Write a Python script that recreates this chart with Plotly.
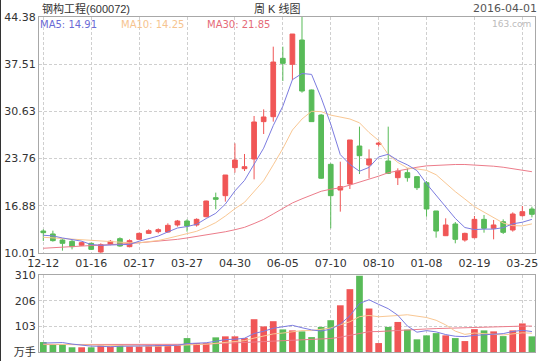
import plotly.graph_objects as go

# ---------------- data ----------------
weeks = [
    "2014-12-12", "2014-12-19", "2014-12-26", "2014-12-31", "2015-01-09",
    "2015-01-16", "2015-01-23", "2015-01-30", "2015-02-06", "2015-02-13",
    "2015-02-17", "2015-02-27", "2015-03-06", "2015-03-13", "2015-03-20",
    "2015-03-27", "2015-04-03", "2015-04-10", "2015-04-17", "2015-04-24",
    "2015-04-30", "2015-05-08", "2015-05-15", "2015-05-22", "2015-05-29",
    "2015-06-05", "2015-06-12", "2015-06-19", "2015-06-26", "2015-07-03",
    "2015-07-10", "2015-07-17", "2015-07-24", "2015-07-31", "2015-08-07",
    "2015-08-10", "2015-12-11", "2015-12-18", "2015-12-25", "2015-12-31",
    "2016-01-08", "2016-01-15", "2016-01-22", "2016-01-29", "2016-02-05",
    "2016-02-19", "2016-02-26", "2016-03-04", "2016-03-11", "2016-03-18",
    "2016-03-25", "2016-04-01",
]

opens = [13.21, 12.78, 11.90, 11.71, 11.13, 11.42, 10.16, 11.27, 12.10, 10.93,
         12.00, 12.87, 13.12, 13.07, 14.09, 14.67, 14.09, 15.30, 18.07, 18.36,
         22.44, 22.29, 23.70, 29.14, 29.86, 38.36, 37.49, 41.03, 33.75, 30.10,
         22.92, 19.18, 20.06, 25.59, 22.83, 25.84, 23.41, 20.98, 21.71, 21.13,
         20.25, 16.13, 12.53, 14.23, 11.90, 12.24, 14.91, 13.60, 14.57, 13.36,
         15.45, 16.42]
highs = [13.46, 13.26, 12.00, 11.90, 11.66, 11.52, 11.42, 11.90, 12.29, 12.00,
         12.97, 13.46, 13.60, 14.33, 14.82, 14.91, 15.06, 17.63, 18.80, 21.37,
         25.98, 24.43, 29.96, 30.93, 40.06, 40.06, 41.90, 44.38, 33.80, 30.25,
         23.07, 23.31, 26.47, 28.41, 25.10, 26.20, 28.41, 22.34, 22.34, 21.22,
         20.49, 16.13, 15.06, 14.52, 12.97, 15.40, 15.54, 14.82, 14.91, 15.93,
         16.85, 16.76]
lows = [11.76, 11.66, 10.35, 10.54, 11.03, 10.45, 10.03, 11.13, 10.93, 10.84,
        11.90, 12.78, 12.87, 12.97, 13.85, 13.12, 13.85, 15.20, 16.37, 17.49,
        21.71, 21.95, 20.74, 27.34, 29.14, 35.06, 35.20, 33.36, 29.14, 20.80,
        13.60, 16.03, 19.33, 21.51, 20.88, 25.50, 21.51, 19.91, 20.40, 19.18,
        15.30, 12.24, 12.48, 11.42, 11.66, 12.15, 12.97, 12.00, 12.78, 13.12,
        15.30, 15.20]
closes = [12.97, 11.81, 11.42, 10.93, 11.52, 10.54, 11.22, 11.71, 11.03, 11.81,
          12.87, 13.26, 13.41, 14.04, 14.67, 13.94, 14.91, 17.58, 17.83, 21.37,
          23.55, 22.58, 29.09, 29.82, 37.82, 37.63, 41.90, 33.60, 29.14, 20.90,
          18.36, 19.67, 26.47, 24.18, 23.70, 26.00, 21.61, 21.95, 20.98, 19.52,
          16.42, 13.21, 14.09, 12.00, 12.87, 14.91, 13.60, 14.09, 13.02, 15.69,
          16.03, 15.64]

ma5 = [12.60, 12.50, 12.20, 12.00, 11.73, 11.24, 11.13, 11.18, 11.20, 11.26,
       11.73, 12.14, 12.48, 13.08, 13.65, 13.86, 14.19, 15.03, 15.79, 17.13,
       19.05, 20.58, 22.88, 25.28, 28.57, 31.39, 35.25, 36.15, 36.02, 32.63,
       28.78, 24.33, 22.91, 21.92, 22.48, 24.00, 24.39, 23.49, 22.85, 22.01,
       20.10, 18.42, 16.84, 15.05, 13.72, 13.42, 13.49, 13.49, 13.70, 14.26,
       14.49, 14.91]
ma10 = [12.30, 12.20, 12.10, 12.00, 11.90, 11.80, 11.70, 11.60, 11.55, 11.50,
        11.49, 11.64, 11.83, 12.14, 12.46, 12.80, 13.17, 13.76, 14.44, 15.39,
        16.46, 17.39, 18.96, 20.54, 22.85, 25.22, 27.92, 29.52, 30.65, 30.60,
        30.09, 29.79, 29.53, 28.97, 27.56, 26.39, 24.36, 23.20, 22.39, 22.25,
        22.05, 21.41, 20.17, 18.95, 17.87, 16.76, 15.96, 15.17, 14.38, 13.99,
        13.96, 14.25]
ma30 = [10.70, 10.80, 10.90, 11.00, 11.05, 11.10, 11.15, 11.20, 11.30, 11.40,
        11.50, 11.60, 11.70, 11.85, 12.00, 12.20, 12.40, 12.60, 12.85, 13.10,
        13.40, 13.75, 14.30, 14.90, 15.70, 16.50, 17.30, 17.90, 18.50, 19.00,
        19.30, 19.50, 19.90, 20.30, 20.70, 21.20, 21.70, 22.00, 22.30, 22.50,
        22.70, 22.80, 22.85, 22.90, 22.90, 22.85, 22.80, 22.65, 22.50, 22.30,
        22.10, 21.85]

volumes = [40, 29, 32, 19, 19, 19, 26, 22, 29, 22,
           22, 26, 29, 29, 29, 56, 36, 36, 59, 63,
           63, 56, 132, 103, 124, 91, 87, 83, 60, 101,
           128, 188, 253, 307, 175, 36, 101, 121, 90, 51,
           67, 76, 67, 56, 44, 92, 87, 83, 64, 87,
           115, 63]
vol_ma5 = [36, 36, 38, 32, 27.8, 23.6, 23.0, 21.0, 23.0, 23.6,
           24.2, 24.2, 25.6, 25.6, 27.0, 33.8, 35.8, 37.2, 43.2, 50.0,
           51.4, 55.4, 74.6, 83.4, 95.6, 101.2, 107.4, 97.6, 89.0, 84.4,
           91.8, 112.0, 146.0, 195.4, 210.2, 191.8, 174.4, 148.0, 104.6, 79.8,
           86.0, 81.0, 70.2, 63.4, 62.0, 67.0, 69.2, 72.4, 74.0, 82.6,
           87.2, 82.4]
vol_ma10 = [32, 31, 30, 30, 29, 28, 27, 26, 26, 25.7,
            23.9, 23.6, 23.3, 24.3, 25.3, 29.0, 30.0, 31.4, 34.4, 38.5,
            42.6, 45.6, 55.9, 63.3, 72.8, 76.3, 81.4, 86.1, 86.2, 90.0,
            96.5, 109.7, 121.8, 142.2, 147.3, 141.8, 143.2, 147.0, 150.0, 145.0,
            138.9, 127.7, 109.1, 84.0, 70.9, 76.5, 75.1, 71.3, 68.7, 72.3,
            77.1, 75.8]
vol_ma30 = [30, 30, 30, 29, 29, 29, 29, 28, 28, 28,
            28, 28, 28, 28, 29, 30, 31, 32, 33, 34,
            36, 37, 40, 42, 44, 46, 48, 49, 50, 51.4,
            54.3, 59.6, 67.0, 76.6, 81.8, 82.4, 84.9, 88.2, 90.2, 91.2,
            92.7, 94.3, 95.6, 96.5, 97.0, 98.2, 99.9, 101.5, 101.6, 102.4,
            104.2, 104.4]

tick_weeks = ["2014-12-12", "2015-01-16", "2015-02-17", "2015-03-27", "2015-04-30",
              "2015-06-05", "2015-07-10", "2015-08-10", "2016-01-08", "2016-02-19",
              "2016-03-25"]
tick_labels = ["12-12", "01-16", "02-17", "03-27", "04-30", "06-05",
               "07-10", "08-10", "01-08", "02-19", "03-25"]
price_ticks = [10.01, 16.88, 23.76, 30.63, 37.51, 44.38]
price_tick_labels = ["10.01", "16.88", "23.76", "30.63", "37.51", "44.38"]
volume_ticks = [0, 103, 206, 310]
volume_tick_labels = ["万手", "103", "206", "310"]

title_text = "钢构工程(600072)"
chart_kind = "周 K 线图"
date_text = "2016-04-01"
legend_texts = ["MA5: 14.91", "MA10: 14.25", "MA30: 21.85"]

# ---------------- style ----------------
RED = "#f05656"
GREEN = "#58bb58"
C_MA5 = "#7c7ce0"
C_MA10 = "#f9c793"
C_MA30 = "#ec7c8a"
GRID = "#cfcfcf"
FRAME = "#a8a8a8"
FONT = "DejaVu Sans"
CJK = "Liberation Sans, Noto Sans CJK SC"

vol_colors = [RED if c >= o else GREEN for o, c in zip(opens, closes)]

fig = go.Figure()
fig.add_trace(go.Candlestick(
    x=weeks, open=opens, high=highs, low=lows, close=closes,
    increasing=dict(line=dict(color=RED, width=1), fillcolor=RED),
    decreasing=dict(line=dict(color=GREEN, width=1), fillcolor=GREEN),
    whiskerwidth=0, xaxis="x", yaxis="y", showlegend=False, hoverinfo="skip"))
for vals, col in ((ma30, C_MA30), (ma10, C_MA10), (ma5, C_MA5)):
    fig.add_trace(go.Scatter(x=weeks, y=vals, mode="lines",
                             line=dict(color=col, width=1),
                             xaxis="x", yaxis="y", showlegend=False, hoverinfo="skip"))

fig.add_trace(go.Bar(x=weeks, y=volumes, marker=dict(color=vol_colors, line=dict(width=0)),
                     xaxis="x2", yaxis="y2", showlegend=False, hoverinfo="skip"))
for vals, col in ((vol_ma30, C_MA30), (vol_ma10, C_MA10), (vol_ma5, C_MA5)):
    fig.add_trace(go.Scatter(x=weeks, y=vals, mode="lines",
                             line=dict(color=col, width=1),
                             xaxis="x2", yaxis="y2", showlegend=False, hoverinfo="skip"))

axis_common = dict(showgrid=True, gridcolor=GRID, griddash="3px,2px", gridwidth=1,
                   showline=True, mirror=True, linecolor=FRAME, linewidth=1,
                   zeroline=False, ticks="", automargin=False,
                   tickfont=dict(family=FONT, size=11, color="#333333"))

L, R, T, B = 39, 6, 17, 9
W, H = 541, 361
pw, ph = W - L - R, H - T - B


def px(x):
    return (x - L) / pw


def py(y):
    return (H - B - y) / ph


fig.update_layout(
    width=W, height=H, autosize=False,
    margin=dict(l=L, r=R, t=T, b=B, pad=0, autoexpand=False),
    paper_bgcolor="white", plot_bgcolor="white",
    showlegend=False,
    bargap=0.3, boxgap=0.3,
    xaxis=dict(type="category", range=[-0.449, 51.32], tickvals=tick_weeks,
               ticktext=tick_labels, anchor="y", rangeslider=dict(visible=False),
               **axis_common),
    yaxis=dict(domain=[py(253), 1], range=[10.01, 44.38], tickvals=price_ticks,
               ticktext=price_tick_labels, anchor="x", **axis_common),
    xaxis2=dict(type="category", matches="x", range=[-0.449, 51.32], tickvals=tick_weeks,
                showticklabels=False, anchor="y2", **axis_common),
    yaxis2=dict(domain=[0, py(275)], range=[0, 310], tickvals=volume_ticks,
                ticktext=volume_tick_labels, anchor="x2", **axis_common),
    hovermode=False,
)
fig.update_layout(yaxis2_tickfont=dict(family="DejaVu Sans, Noto Sans CJK SC", size=11, color="#333333"))

ann = []
ann.append(dict(text=title_text, x=px(41), y=py(8), xanchor="left", yanchor="middle",
                font=dict(family=CJK, size=11, color="#333333")))
ann.append(dict(text=chart_kind, x=px(277), y=py(8), xanchor="center", yanchor="middle",
                font=dict(family=CJK, size=11, color="#333333")))
ann.append(dict(text=date_text, x=px(538), y=py(8), xanchor="right", yanchor="middle",
                font=dict(family=FONT, size=11, color="#555555")))
for txt, xl, col in zip(legend_texts, (39, 120, 206), ("#6b6bd6", "#f6c48f", "#e56a78")):
    ann.append(dict(text=txt, x=px(xl), y=py(24), xanchor="left", yanchor="middle",
                    font=dict(family=FONT, size=10, color=col)))
ann.append(dict(text="163.com", x=px(532), y=py(24), xanchor="right", yanchor="middle",
                font=dict(family=FONT, size=9, color="#bbbbbb")))
for a in ann:
    a.update(xref="paper", yref="paper", showarrow=False, borderpad=0)
fig.update_layout(annotations=ann)

fig.add_shape(type="line", xref="paper", yref="paper", x0=px(0.5), x1=px(0.5),
              y0=py(0), y1=py(361), line=dict(color="#333333", width=1))

fig.write_html("out.html", config={"displayModeBar": False},
               post_script="document.body.style.margin='0';")
